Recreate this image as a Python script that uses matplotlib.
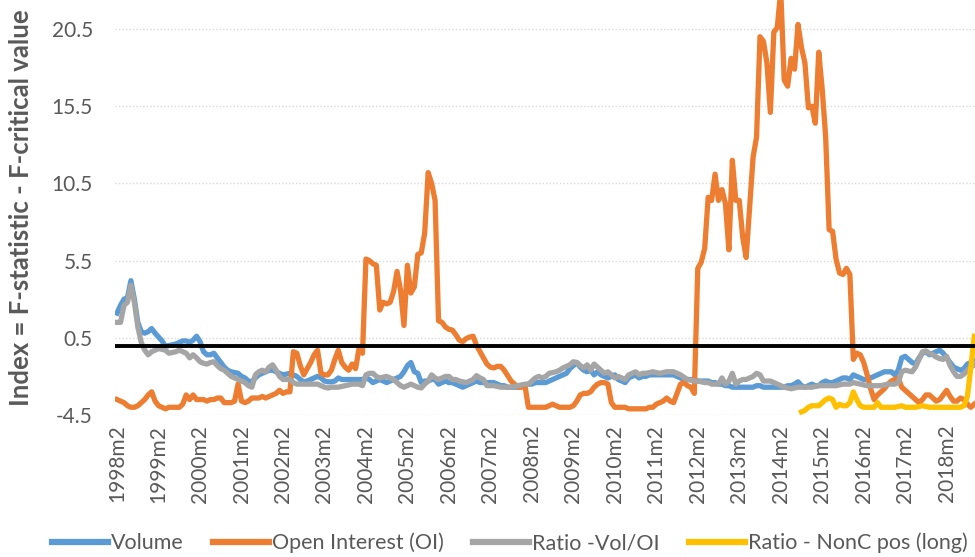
import matplotlib
matplotlib.use("Agg")
import matplotlib.pyplot as plt
import numpy as np

# ---- data (monthly, 1998m2 .. 2018m10) ----
start_year, start_month = 1998, 2
volume = [
    2.1, 2.6, 3.0, 3.1, 4.2, 3.0, 1.5, 0.9, 0.8, 0.9, 1.1, 0.8,
    0.55, 0.3, -0.05, 0.0, 0.05, 0.1, 0.2, 0.3, 0.3, 0.2, 0.35, 0.6,
    0.25, -0.4, -0.6, -0.6, -0.5, -0.8, -1.1, -1.4, -1.6, -1.7, -1.75, -1.8,
    -2.0, -2.1, -2.3, -2.35, -2.1, -1.9, -1.8, -1.7, -1.6, -1.6, -1.7, -1.8,
    -1.9, -1.85, -1.8, -1.9, -2.0, -2.2, -2.35, -2.3, -2.2, -2.1, -2.0, -2.1,
    -2.3, -2.35, -2.35, -2.3, -2.1, -2.2, -2.2, -2.2, -2.2, -2.2, -2.2, -2.2,
    -2.1, -2.2, -2.4, -2.3, -2.2, -2.3, -2.4, -2.3, -2.2, -2.1, -2.0, -1.7,
    -1.3, -1.1, -1.7, -1.8, -2.4, -2.3, -2.3, -2.2, -2.2, -2.5, -2.4, -2.3,
    -2.4, -2.4, -2.5, -2.6, -2.7, -2.6, -2.5, -2.4, -2.3, -2.4, -2.4, -2.4,
    -2.4, -2.4, -2.5, -2.6, -2.6, -2.7, -2.7, -2.7, -2.7, -2.6, -2.6, -2.5,
    -2.5, -2.4, -2.4, -2.4, -2.4, -2.3, -2.2, -2.1, -2.0, -1.9, -1.8, -1.5,
    -1.3, -1.1, -1.4, -1.6, -1.7, -1.6, -1.9, -1.7, -1.9, -2.0, -2.1, -2.0,
    -1.9, -2.2, -2.3, -2.4, -2.1, -2.0, -1.9, -2.1, -2.0, -2.0, -1.9, -1.9,
    -1.9, -1.9, -1.9, -1.9, -1.9, -1.9, -2.0, -2.1, -2.2, -2.2, -2.2, -2.2,
    -2.3, -2.3, -2.3, -2.3, -2.4, -2.4, -2.5, -2.5, -2.6, -2.6, -2.7, -2.7,
    -2.7, -2.7, -2.7, -2.7, -2.7, -2.6, -2.6, -2.7, -2.7, -2.7, -2.7, -2.7,
    -2.7, -2.7, -2.6, -2.6, -2.5, -2.35, -2.6, -2.7, -2.6, -2.5, -2.6, -2.6,
    -2.4, -2.3, -2.4, -2.4, -2.3, -2.2, -2.1, -2.1, -2.2, -1.9, -2.0, -2.1,
    -2.2, -2.2, -2.1, -2.0, -1.9, -1.8, -1.7, -1.7, -1.7, -1.9, -1.6, -0.8,
    -0.7, -0.9, -1.1, -1.2, -0.8, -0.5, -0.4, -0.6, -0.5, -0.4, -0.3, -0.5,
    -0.8, -1.1, -1.4, -1.5, -1.6, -1.5, -1.2, -1.1, -1.0,
]
open_interest = [
    -3.5, -3.6, -3.7, -3.9, -4.0, -4.0, -3.9, -3.7, -3.5, -3.2, -3.0, -3.6,
    -3.9, -4.0, -4.1, -4.0, -4.0, -4.0, -4.0, -3.8, -3.2, -3.5, -3.2, -3.5,
    -3.5, -3.5, -3.6, -3.5, -3.5, -3.4, -3.4, -3.7, -3.7, -3.7, -3.6, -2.5,
    -3.6, -3.7, -3.6, -3.4, -3.4, -3.4, -3.3, -3.4, -3.3, -3.2, -3.1, -2.9,
    -3.1, -3.0, -3.0, -0.4, -0.5, -1.3, -1.9, -1.5, -1.1, -0.6, -0.3, -1.8,
    -1.9, -1.9, -1.6, -0.9, -0.3, -1.1, -1.4, -1.6, -1.2, -1.5, -0.2, -0.5,
    5.6, 5.5, 5.3, 5.2, 2.3, 2.8, 2.7, 2.8, 3.5, 4.8, 3.6, 1.3,
    5.2, 3.4, 3.8, 5.9, 6.0, 7.3, 11.2, 10.5, 9.4, 1.6, 1.5, 1.2,
    1.05, 1.0, 0.7, 0.35, 0.25, 0.45, 0.55, 0.6, 0.0, -0.4, -0.8, -1.2,
    -1.4, -1.45, -1.35, -1.35, -1.6, -1.95, -2.3, -2.5, -2.7, -2.7, -2.6, -4.0,
    -4.0, -4.0, -4.0, -4.0, -4.0, -3.9, -3.8, -3.9, -4.0, -4.0, -4.0, -4.0,
    -3.9, -3.6, -3.2, -3.1, -3.1, -3.0, -2.7, -2.5, -2.4, -2.4, -2.5, -3.7,
    -4.0, -4.0, -4.0, -4.0, -4.1, -4.1, -4.1, -4.1, -4.1, -4.1, -4.0, -4.0,
    -3.8, -3.7, -3.6, -3.4, -3.6, -3.7, -3.1, -2.5, -2.4, -2.6, -2.7, -3.1,
    5.0, 5.4, 6.3, 9.6, 9.4, 11.1, 9.4, 10.1, 9.2, 6.2, 12.0, 9.4,
    9.4, 7.0, 5.7, 9.0, 12.2, 13.5, 20.0, 19.7, 18.3, 15.1, 20.3, 20.6,
    23.0, 17.2, 16.8, 18.6, 17.9, 20.8, 19.3, 18.3, 15.4, 15.5, 14.4, 19.0,
    16.6, 13.5, 7.5, 7.4, 5.6, 4.7, 4.6, 5.0, 4.6, -0.9, -0.5, -0.6,
    -1.1, -1.9, -2.8, -3.5, -3.2, -3.0, -2.8, -2.5, -2.3, -2.2, -2.1, -2.7,
    -2.9, -3.1, -3.3, -3.5, -3.7, -3.5, -3.2, -3.2, -3.4, -3.6, -3.5, -3.2,
    -2.9, -3.3, -3.6, -3.6, -3.4, -3.5, -3.8, -4.0, -3.8,
]
ratio_vol_oi = [
    1.5, 1.5, 2.6, 2.8, 3.9, 2.8, 1.2, 0.2, -0.3, -0.6, -0.4, -0.3,
    -0.2, -0.25, -0.3, -0.5, -0.45, -0.4, -0.3, -0.4, -0.5, -0.8, -0.6, -0.8,
    -1.05, -1.15, -1.2, -1.1, -1.05, -1.3, -1.5, -1.6, -1.8, -2.0, -2.1, -2.2,
    -2.3, -2.4, -2.6, -2.7, -1.9, -1.7, -1.6, -1.7, -1.4, -1.25, -1.6, -2.0,
    -2.2, -2.2, -2.2, -2.4, -2.5, -2.5, -2.5, -2.5, -2.5, -2.5, -2.5, -2.6,
    -2.7, -2.75, -2.7, -2.7, -2.7, -2.65, -2.6, -2.55, -2.5, -2.5, -2.5, -2.6,
    -1.9, -1.8, -1.8, -2.0, -2.1, -2.05, -2.0, -2.1, -2.2, -2.4, -2.6, -2.7,
    -2.6, -2.5, -2.6, -2.7, -2.75, -2.5, -2.3, -1.9, -2.1, -2.2, -2.1, -2.0,
    -2.0, -2.2, -2.2, -2.3, -2.35, -2.4, -2.3, -2.2, -1.95, -2.1, -2.2, -2.6,
    -2.6, -2.6, -2.65, -2.7, -2.7, -2.7, -2.7, -2.65, -2.6, -2.55, -2.5, -2.5,
    -2.3, -2.1, -2.0, -2.1, -2.0, -1.8, -1.75, -1.7, -1.6, -1.45, -1.35, -1.25,
    -1.05, -1.1, -1.3, -1.45, -1.25, -1.6, -1.2, -1.4, -1.6, -1.8, -1.7, -1.9,
    -2.1, -2.0, -2.1, -2.2, -1.9, -1.8, -1.7, -1.9, -1.8, -1.8, -1.75, -1.7,
    -1.75, -1.8, -1.75, -1.7, -1.7, -1.7, -1.8, -1.9, -2.05, -2.2, -2.25, -2.3,
    -2.3, -2.35, -2.4, -2.4, -2.5, -2.5, -2.5, -2.1, -2.5, -2.3, -1.8, -2.5,
    -2.3, -2.2, -2.2, -2.1, -2.0, -1.8, -1.9, -2.3, -2.3, -2.3, -2.4, -2.5,
    -2.6, -2.7, -2.75, -2.8, -2.75, -2.7, -2.7, -2.7, -2.7, -2.7, -2.65, -2.6,
    -2.6, -2.6, -2.6, -2.6, -2.6, -2.55, -2.5, -2.5, -2.5, -2.4, -2.45, -2.5,
    -2.55, -2.6, -2.6, -2.6, -2.6, -2.6, -2.55, -2.5, -2.5, -2.5, -2.4, -1.7,
    -1.6, -1.65, -1.7, -1.4, -0.9, -0.4, -0.35, -0.5, -0.6, -0.75, -0.85, -0.9,
    -0.7, -1.3, -1.7, -2.0, -2.0, -1.85, -1.6, -1.4, -1.25,
]
nonc_start = 198  # first month index of the NonC series (2014m8)
ratio_nonc_long = [
    -4.3, -4.2, -4.0, -3.9, -3.9, -3.9,
    -3.7, -3.5, -3.4, -3.5, -4.0, -3.8, -3.9, -3.9, -3.7, -3.0, -3.5, -3.9,
    -4.0, -4.0, -4.0, -4.0, -3.7, -4.0, -4.0, -4.0, -4.0, -4.0, -3.95, -3.9,
    -4.0, -4.0, -4.0, -4.0, -3.95, -3.9, -3.95, -4.0, -4.0, -4.0, -4.0, -4.0,
    -4.0, -4.0, -4.0, -4.0, -4.0, -3.9, -3.3, -1.4, 0.6,
]
threshold = 0.0
y_ticks = [-4.5, 0.5, 5.5, 10.5, 15.5, 20.5]

n = len(volume)
categories = []
for i in range(n):
    mm = start_month + i
    categories.append(f"{start_year + (mm - 1) // 12}m{(mm - 1) % 12 + 1}")
label_idx = [i for i, c in enumerate(categories) if c.endswith("m2")]
label_txt = [categories[i] for i in label_idx]

# ---- style ----
FONT = ["Lato", "DejaVu Sans"]
plt.rcParams["font.family"] = FONT
TXT = "#595959"

fig = plt.figure(figsize=(9.75, 5.57), dpi=100)
ax = fig.add_axes([115 / 975, 1 - 415 / 557, 1 - 115 / 975, 415 / 557])

x = np.arange(n)
lw = 3.8
ax.plot(x, volume, color="#5B9BD5", lw=lw, label="Volume", solid_joinstyle="round")
ax.plot(x, open_interest, color="#ED7D31", lw=lw, label="Open Interest (OI)", solid_joinstyle="round")
ax.plot(x, ratio_vol_oi, color="#A5A5A5", lw=lw, label="Ratio -Vol/OI", solid_joinstyle="round")
ax.plot(np.arange(nonc_start, nonc_start + len(ratio_nonc_long)), ratio_nonc_long,
        color="#FFC000", lw=lw, label="Ratio - NonC pos (long)", solid_joinstyle="round")
ax.axhline(threshold, color="black", lw=2.8, zorder=5)

ax.set_xlim(-0.6, n - 1 + 0.2)
ax.set_ylim(-4.5, 22.38)
ax.set_yticks(y_ticks)
ax.set_yticklabels([f"{v:.1f}" for v in y_ticks])
ax.set_xticks(label_idx)
ax.set_xticklabels(label_txt, rotation=90)
ax.tick_params(axis="both", length=0, colors=TXT, labelsize=15)
ax.tick_params(axis="y", pad=16)
ax.tick_params(axis="x", pad=7)
for s in ax.spines.values():
    s.set_visible(False)
ax.grid(axis="y", color="#D9D9D9", linestyle=(0, (1, 1.5)), lw=1.0)
ax.set_axisbelow(True)

fig.text(21 / 975, 1 - 208 / 557, "Index = F-statistic - F-critical value", rotation=90,
         ha="center", va="center", fontsize=18.5, fontweight="bold", color=TXT)

handles, labels = ax.get_legend_handles_labels()
leg = fig.legend(handles, labels, loc="center", bbox_to_anchor=(510 / 975, 1 - 543 / 557),
                 ncol=4, frameon=False, fontsize=15.5, handlelength=2.6, handletextpad=0.15,
                 columnspacing=1.35, borderaxespad=0)
for t in leg.get_texts():
    t.set_color(TXT)
for h in leg.get_lines():
    h.set_linewidth(4.5)

fig.savefig("out.png", dpi=100)
